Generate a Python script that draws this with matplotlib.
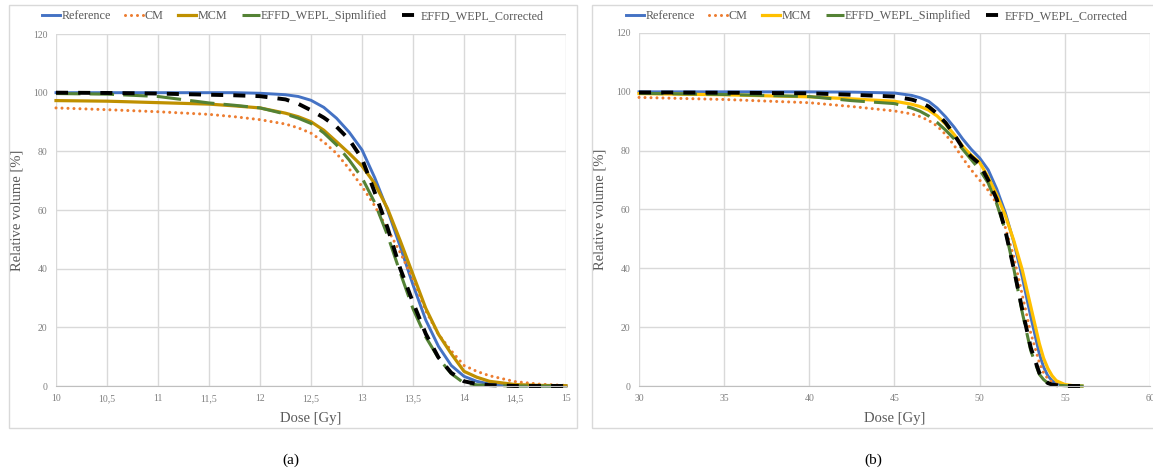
import matplotlib
matplotlib.use("Agg")
import matplotlib.pyplot as plt
from matplotlib.patches import Rectangle
from matplotlib.lines import Line2D

plt.rcParams['font.family'] = ['Liberation Serif', 'DejaVu Serif']

# ---- panel (a) data: dose [Gy] vs relative volume [%]
dose_a = [10, 10.5, 11, 11.5, 11.75, 12, 12.25, 12.375, 12.5, 12.625, 12.75, 12.875,
          13, 13.125, 13.25, 13.375, 13.5, 13.625, 13.75, 13.875, 14, 14.125,
          14.25, 14.5, 14.75, 15]
ref_a = [100, 100, 100, 100, 100, 99.8, 99.3, 98.7, 97.4, 95, 91.3, 86.5,
         80.5, 71, 60, 47.5, 34.5, 22.5, 13.5, 7, 3.3, 1.6,
         0.7, 0.1, 0, 0]
cm_a = [94.8, 94.2, 93.5, 92.6, 91.8, 90.8, 89.3, 88, 86.2, 83.2, 79.3, 74,
        68, 61.4, 53.5, 45.5, 36.5, 25.6, 17.6, 12, 7, 5,
        3.5, 1.5, 0.6, 0.2]
mcm_a = [97.3, 97.1, 96.6, 96.1, 95.5, 94.8, 93, 91.8, 90.1, 87.2, 83.3, 79.3,
         75, 69, 60.5, 49.5, 38, 26.5, 17.6, 11, 5, 3,
         1.6, 0.5, 0.2, 0.1]
simp_a = [99.7, 99.5, 98.7, 96.5, 95.7, 94.8, 92.7, 91.3, 89.5, 86.3, 82.2, 77,
          71, 62.5, 51.4, 38.6, 26.3, 16.7, 9.5, 4.2, 1, 0.4,
          0.2, 0, 0, 0]
corr_a = [100, 99.9, 99.7, 99.3, 99.1, 98.8, 97.7, 96.2, 94, 91.5, 88.4, 84,
          77.5, 66, 54, 40, 28.5, 17.8, 9.7, 4.5, 1.6, 0.7,
          0.3, 0, 0, 0]

# ---- panel (b) data
dose_b = [30, 35, 40, 42.5, 45, 46, 46.5, 47, 47.5, 48, 48.5, 49, 49.5, 50, 50.5,
          51, 51.5, 52, 52.5, 53, 53.5, 53.75, 54, 54.25, 54.5, 55, 55.5, 56, 56.6]
ref_b = [100, 100, 100, 99.9, 99.6, 98.8, 98, 96.8, 94.5, 91.5, 88, 84, 80.5, 77.5, 73.5,
         67, 59, 49, 37, 23.5, 11, 6.5, 3.5, 1.8, 0.8, 0.2, 0, None, None]
cm_b = [98.1, 97.4, 96.3, 95, 93.5, 92.5, 91.6, 90.3, 88.4, 85.5, 81.8, 77.5, 73.5, 70, 66.5,
        62, 54, 44, 31, 18, 8, 4.5, 2.5, 1.3, 0.8, 0.2, 0, None, None]
mcm_b = [99.4, 99, 98.3, 97.6, 96.8, 95.8, 95, 93.8, 91.8, 89, 85.5, 81.5, 78.5, 76, 71,
         65, 58, 49.5, 39.5, 27, 14.5, 9.5, 6, 3.5, 1.8, 0.5, 0.1, 0, None]
simp_b = [99.5, 99.1, 98.4, 97, 96, 94.5, 93.4, 91.8, 89.6, 87, 84, 80.5, 77, 73.5, 69,
          62, 53, 40, 25, 12, 4, 2.2, 1, 0.5, 0.3, 0.1, 0, 0, 0]
corr_b = [99.8, 99.7, 99.5, 99, 98.4, 97.4, 96.5, 95, 92.6, 89.5, 85.5, 81, 78, 75.5, 70,
          63.5, 53, 40, 26, 13, 4.5, 2.5, 1, 0.5, 0.3, 0, 0, 0, None]

labels_a = ["Reference", "CM", "MCM", "EFFD_WEPL_Sipmlified", "EFFD_WEPL_Corrected"]
labels_b = ["Reference", "CM", "MCM", "EFFD_WEPL_Simplified", "EFFD_WEPL_Corrected"]
xticks_a = [10, 10.5, 11, 11.5, 12, 12.5, 13, 13.5, 14, 14.5, 15]
xticks_b = [30, 35, 40, 45, 50, 55, 60]
yticks = [0, 20, 40, 60, 80, 100, 120]

BLUE = "#4472C4"
ORANGE = "#ED7D31"
GREEN = "#548235"
GRID = "#D9D9D9"
TXT = "#595959"


def styles(gold):
    return [
        dict(color=BLUE, lw=2.1, ls="-", solid_joinstyle="round"),
        dict(color=ORANGE, lw=2.2, ls=(0, (0.01, 1.95)), dash_capstyle="round"),
        dict(color=gold, lw=2.3, ls="-", solid_joinstyle="round"),
        dict(color=GREEN, lw=2.2, ls=(0, (8, 3)), dash_joinstyle="round"),
        dict(color="black", lw=2.8, ls=(0, (3.1, 2.6)), dash_joinstyle="round"),
    ]


def clean(x, y):
    pts = [(a, b) for a, b in zip(x, y) if b is not None]
    return [p[0] for p in pts], [p[1] for p in pts]


def draw_panel(ax, dose, series, labels, gold, xlim, xticks, xticklabels):
    st = styles(gold)
    handles = []
    for vals, s, lab in zip(series, st, labels):
        xx, yy = clean(dose, vals)
        ax.plot(xx, yy, label=lab, clip_on=False, **s)
        handles.append(Line2D([], [], **s))
    ax.set_xlim(*xlim)
    ax.set_ylim(0, 120)
    ax.set_xticks(xticks)
    ax.set_xticklabels(xticklabels)
    ax.set_yticks(yticks)
    ax.grid(True, color=GRID, lw=1)
    ax.set_axisbelow(True)
    for side in ["top", "right", "left"]:
        ax.spines[side].set_visible(False)
    ax.spines["bottom"].set_color("#BFBFBF")
    ax.tick_params(length=0, labelsize=7, labelcolor="#7F7F7F", pad=6)
    ax.set_xlabel("Dose [Gy]", fontsize=10.5, color=TXT)
    ax.set_ylabel("Relative volume [%]", fontsize=10.5, color=TXT)
    ax.xaxis.set_label_coords(0.5, -0.075)
    ax.yaxis.set_label_coords(-0.063, 0.5)
    return handles


W, H = 1153, 473
fig = plt.figure(figsize=(W / 100, H / 100), dpi=100)

ax1 = fig.add_axes([56 / W, 1 - 386 / H, 510 / W, 352 / H])
ax2 = fig.add_axes([639 / W, 1 - 386 / H, 511 / W, 353 / H])

xl_a = [("%g" % t).replace(".", ",") for t in xticks_a]
h1 = draw_panel(ax1, dose_a, [ref_a, cm_a, mcm_a, simp_a, corr_a], labels_a,
                "#BF9000", (10, 15), xticks_a, xl_a)
h2 = draw_panel(ax2, dose_b, [ref_b, cm_b, mcm_b, simp_b, corr_b], labels_b,
                "#FFC000", (30, 60), xticks_b, [str(t) for t in xticks_b])

for h, labs, cx in [(h1, labels_a, 293), (h2, labels_b, 877)]:
    fig.legend(h, labs, loc="center", bbox_to_anchor=(cx / W, 1 - 16 / H), ncol=5,
               frameon=False, fontsize=8.7, labelcolor=TXT, handlelength=1.5,
               handletextpad=0.1, columnspacing=1.2, borderaxespad=0)

# chart frames
fig.add_artist(Rectangle((9 / W, 1 - 428 / H), 568 / W, 423 / H, transform=fig.transFigure,
                         fill=False, edgecolor=GRID, lw=1))
fig.add_artist(Rectangle((592 / W, 1 - 428 / H), 600 / W, 423 / H, transform=fig.transFigure,
                         fill=False, edgecolor=GRID, lw=1))

fig.text(291 / W, 1 - 460 / H, "(a)", ha="center", va="center", fontsize=11)
fig.text(873 / W, 1 - 460 / H, "(b)", ha="center", va="center", fontsize=11)

fig.savefig("out.png", dpi=100)
